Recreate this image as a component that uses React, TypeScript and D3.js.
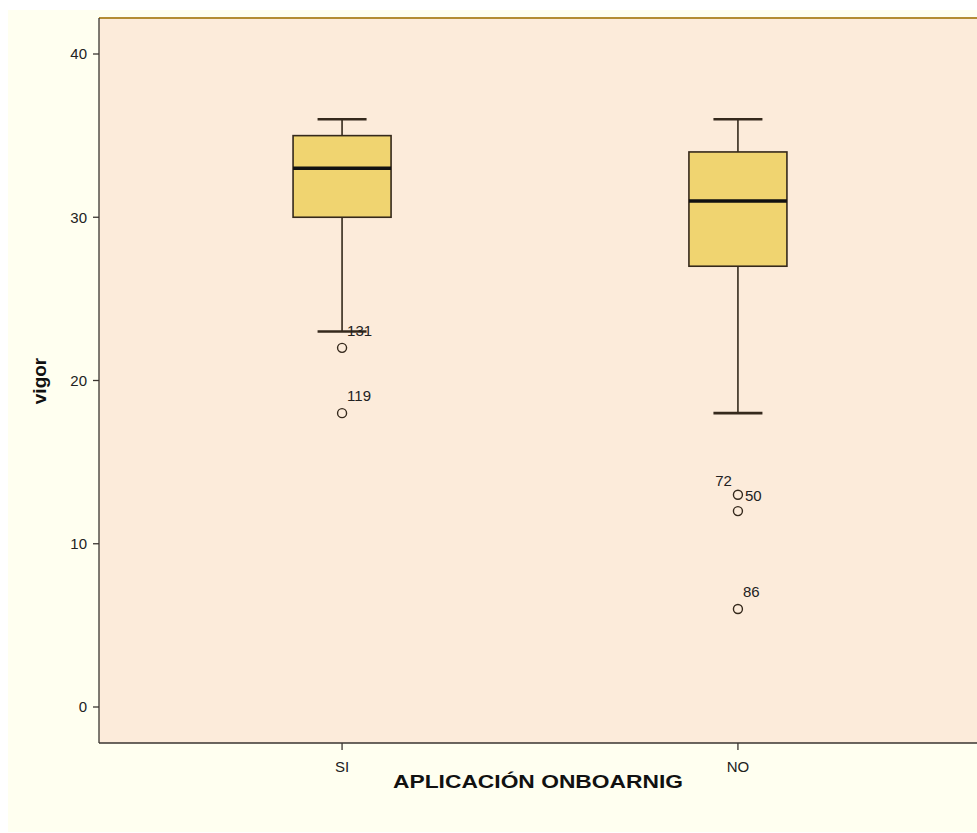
import React from "react";
import * as d3 from "d3";

const categories = ["SI", "NO"];
const whiskerHigh = [36, 36];
const q3 = [35, 34];
const median = [33, 31];
const q1 = [30, 27];
const whiskerLow = [23, 18];

const outlierCategory = ["SI", "SI", "NO", "NO", "NO"];
const outlierValue = [22, 18, 13, 12, 6];
const outlierLabels = ["131", "119", "", "", "86"];

// extra labels placed beside the 13 point in the reference
const extraLabels = ["72", "50"];
const extraLabelValue = [13, 13];
const extraLabelCategory = ["NO", "NO"];

const yTicks = [0, 10, 20, 30, 40];

const W = 977;
const H = 833;
const plot = { left: 99, top: 18, right: 981, bottom: 743 };

export default function App() {
  const y = d3.scaleLinear().domain([0, 40]).range([707, 54]);
  const x = d3.scalePoint<string>().domain(categories).range([plot.left, plot.right]).padding(0.614);
  const boxW = 98;
  const capW = 49;
  const dark = "#35291c";
  const font = "Arial, 'Liberation Sans', sans-serif";

  const extraOffsets = [
    { dx: -6, dy: -9, anchor: "end" },
    { dx: 7, dy: 6, anchor: "start" },
  ];

  return (
    <svg width={W} height={H} style={{ position: "absolute", left: 0, top: 0 }} fontFamily={font}>
      <rect x={0} y={0} width={W} height={H} fill="#ffffff" />
      <rect x={8} y={10} width={W - 8} height={822} fill="#fffff0" />
      <rect x={plot.left} y={plot.top} width={W - plot.left} height={plot.bottom - plot.top} fill="#fcebda" />
      {/* top border */}
      <line x1={plot.left} x2={W} y1={plot.top} y2={plot.top} stroke="#b48c34" strokeWidth={2} />
      {/* axes */}
      <line x1={plot.left} x2={plot.left} y1={plot.top} y2={plot.bottom} stroke="#3a3530" strokeWidth={1.3} />
      <line x1={plot.left} x2={W} y1={plot.bottom} y2={plot.bottom} stroke="#3a3530" strokeWidth={1.3} />
      {yTicks.map((t) => (
        <g key={t}>
          <line x1={plot.left - 6} x2={plot.left} y1={y(t)} y2={y(t)} stroke="#3a3530" strokeWidth={1.3} />
          <text x={plot.left - 12} y={y(t)} dy="0.36em" textAnchor="end" fontSize={15} fill="#222">
            {t}
          </text>
        </g>
      ))}
      {categories.map((c) => (
        <g key={c}>
          <line x1={x(c)} x2={x(c)} y1={plot.bottom} y2={plot.bottom + 7} stroke="#3a3530" strokeWidth={1.3} />
          <text x={x(c)} y={plot.bottom + 29} textAnchor="middle" fontSize={15} fill="#222">
            {c}
          </text>
        </g>
      ))}
      {/* boxes */}
      {categories.map((c, i) => {
        const cx = x(c)!;
        return (
          <g key={c}>
            <line x1={cx} x2={cx} y1={y(whiskerHigh[i])} y2={y(q3[i])} stroke={dark} strokeWidth={1.6} />
            <line x1={cx} x2={cx} y1={y(q1[i])} y2={y(whiskerLow[i])} stroke={dark} strokeWidth={1.6} />
            <line x1={cx - capW / 2} x2={cx + capW / 2} y1={y(whiskerHigh[i])} y2={y(whiskerHigh[i])} stroke={dark} strokeWidth={2.6} />
            <line x1={cx - capW / 2} x2={cx + capW / 2} y1={y(whiskerLow[i])} y2={y(whiskerLow[i])} stroke={dark} strokeWidth={2.6} />
            <rect
              x={cx - boxW / 2}
              y={y(q3[i])}
              width={boxW}
              height={y(q1[i]) - y(q3[i])}
              fill="#f0d470"
              stroke={dark}
              strokeWidth={1.6}
            />
            <line x1={cx - boxW / 2} x2={cx + boxW / 2} y1={y(median[i])} y2={y(median[i])} stroke="#111" strokeWidth={3.5} />
          </g>
        );
      })}
      {/* outliers */}
      {outlierValue.map((v, i) => {
        const cx = x(outlierCategory[i])!;
        return (
          <g key={i}>
            <circle cx={cx} cy={y(v)} r={4.5} fill="none" stroke={dark} strokeWidth={1.4} />
            {outlierLabels[i] && (
              <text x={cx + 5} y={y(v) - 12} fontSize={15} fill="#222">
                {outlierLabels[i]}
              </text>
            )}
          </g>
        );
      })}
      {extraLabels.map((l, i) => (
        <text
          key={l}
          x={x(extraLabelCategory[i])! + extraOffsets[i].dx}
          y={y(extraLabelValue[i]) + extraOffsets[i].dy}
          textAnchor={extraOffsets[i].anchor as any}
          fontSize={15}
          fill="#222"
        >
          {l}
        </text>
      ))}
      {/* titles */}
      <text
        transform={`translate(${46},${381}) rotate(-90)`}
        textAnchor="middle"
        fontSize={19}
        fontWeight="bold"
        fill="#111"
      >
        vigor
      </text>
      <text x={538} y={788} textAnchor="middle" fontSize={19} fontWeight="bold" fill="#111" textLength={290} lengthAdjust="spacingAndGlyphs">
        APLICACIÓN ONBOARNIG
      </text>
    </svg>
  );
}
